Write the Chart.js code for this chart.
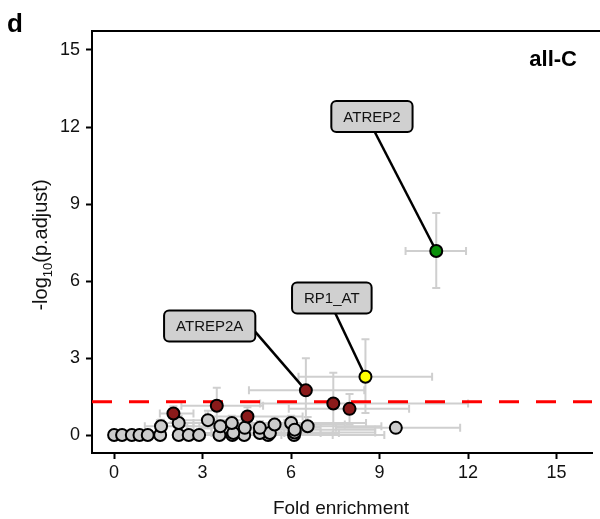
<!DOCTYPE html>
<html>
<head>
<meta charset="utf-8">
<script src="https://cdn.jsdelivr.net/npm/chart.js@4.4.1/dist/chart.umd.min.js"></script>
<style>
  html, body { margin: 0; padding: 0; background: #fff; }
  #wrap { position: relative; width: 600px; height: 519px; }
</style>
</head>
<body>
<div id="wrap"><canvas id="chart"></canvas></div>
<script>
'use strict';

/* ── Data ──────────────────────────────────────────────────────────────── */
// one entry per enriched term
const foldEnrichment = [
  0.00, 0.27, 0.60, 0.86, 1.14, 1.56, 2.19, 2.53, 2.88, 3.57, 4.01, 4.41, 5.22, 6.10,
  4.04, 4.94, 5.28, 6.12,
  1.59, 2.19, 3.18, 3.60, 3.99, 4.43, 4.94, 5.44, 6.00, 6.12, 6.56, 9.55,
  2.01, 3.48, 4.52, 6.50, 7.43, 7.98,
  8.52, 10.92
];
const negLog10Padj = [
  0.00, 0.00, 0.00, 0.00, 0.00, 0.00, 0.00, 0.00, 0.00, 0.00, 0.00, 0.00, 0.00, 0.00,
  0.08, 0.08, 0.08, 0.10,
  0.34, 0.47, 0.58, 0.34, 0.47, 0.28, 0.28, 0.41, 0.47, 0.21, 0.34, 0.28,
  0.84, 1.14, 0.72, 1.74, 1.23, 1.02,
  2.27, 7.17
];
const foldLow = [
  0.00, 0.27, 0.60, 0.86, 1.14, 1.56, 2.19, 2.53, 2.88, 2.38, 2.69, 3.00, 3.51, 4.13,
  2.79, 3.30, 3.51, 4.13,
  1.04, 1.45, 2.07, 2.48, 2.69, 2.89, 3.30, 3.61, 4.02, 4.13, 4.43, 7.52,
  1.55, 2.28, 3.10, 4.57, 4.95, 5.92,
  6.25, 9.88
];
const foldHigh = [
  0.00, 0.27, 0.60, 0.86, 1.14, 1.56, 2.19, 2.53, 2.88, 5.15, 5.67, 6.18, 7.41, 9.16,
  5.77, 7.00, 7.62, 8.85,
  2.69, 3.30, 4.64, 5.36, 5.77, 6.39, 7.00, 7.82, 8.54, 8.85, 9.06, 11.73,
  2.69, 5.05, 6.39, 8.48, 12.00, 10.00,
  10.78, 11.93
];
const padjLow = [
  0, 0, 0, 0, 0, 0, 0, 0, 0, 0, 0, 0, 0, 0,
  0.00, 0.00, 0.00, 0.00,
  0.10, 0.15, 0.25, 0.10, 0.15, 0.05, 0.05, 0.10, 0.15, 0.00, 0.05, 0.28,
  0.50, 0.50, 0.30, 0.45, 0.00, 0.40,
  0.86, 5.73
];
const padjHigh = [
  0, 0, 0, 0, 0, 0, 0, 0, 0, 0, 0, 0, 0, 0,
  0.00, 0.00, 0.00, 0.00,
  0.60, 0.75, 0.95, 0.60, 0.75, 0.55, 0.55, 0.70, 0.75, 0.45, 0.70, 0.28,
  1.12, 1.84, 1.08, 2.99, 2.43, 1.60,
  3.73, 8.65
];
// ns = not significant, sig = significant, yellow / green = highlighted
const termClass = [
  'ns','ns','ns','ns','ns','ns','ns','ns','ns','ns','ns','ns','ns','ns',
  'ns','ns','ns','ns',
  'ns','ns','ns','ns','ns','ns','ns','ns','ns','ns','ns','ns',
  'sig','sig','sig','sig','sig','sig',
  'yellow','green'
];
const labelIndex = [37, 36, 33];
const labelText  = ['ATREP2', 'RP1_AT', 'ATREP2A'];
const xTicks = [0, 3, 6, 9, 12, 15];
const yTicks = [0, 3, 6, 9, 12, 15];
const padjCutoff = 1.30; // -log10(0.05)

/* ── Style ─────────────────────────────────────────────────────────────── */
const FONT = '"Liberation Sans", Arial, Helvetica, sans-serif';
const classColour = { ns: '#cccccc', sig: '#8b1a1a', yellow: '#ffff00', green: '#0a8f0a' };
// label box centres (data units) and where the leader leaves the box (-1..1 of half size)
const labelBoxAt  = [[8.74, 12.41], [7.38, 5.34], [3.24, 4.25]];
const labelAnchor = [[0.07, 1], [0.09, 1], [1, 0.38]];

function pointsOf(cls) {
  return foldEnrichment
    .map((f, i) => ({ x: f, y: negLog10Padj[i], c: termClass[i] }))
    .filter(p => p.c === cls);
}

/* ── Plugin: error bars, cut-off, labels, frame, titles ────────────────── */
const decor = {
  id: 'decor',
  beforeDatasetsDraw(chart) {
    const { ctx, chartArea: a, scales: { x, y } } = chart;
    ctx.save();
    ctx.beginPath();
    ctx.rect(a.left, a.top, a.right - a.left, a.bottom - a.top);
    ctx.clip();

    // error bars
    ctx.strokeStyle = '#cfcfcf';
    ctx.lineWidth = 2;
    const cap = 4;
    foldEnrichment.forEach((f, i) => {
      const px = x.getPixelForValue(f), py = y.getPixelForValue(negLog10Padj[i]);
      if (foldHigh[i] > foldLow[i]) {
        const x0 = x.getPixelForValue(foldLow[i]), x1 = x.getPixelForValue(foldHigh[i]);
        ctx.beginPath();
        ctx.moveTo(x0, py); ctx.lineTo(x1, py);
        ctx.moveTo(x0, py - cap); ctx.lineTo(x0, py + cap);
        ctx.moveTo(x1, py - cap); ctx.lineTo(x1, py + cap);
        ctx.stroke();
      }
      if (padjHigh[i] > padjLow[i]) {
        const y0 = y.getPixelForValue(padjLow[i]), y1 = y.getPixelForValue(padjHigh[i]);
        ctx.beginPath();
        ctx.moveTo(px, y0); ctx.lineTo(px, y1);
        ctx.moveTo(px - cap, y0); ctx.lineTo(px + cap, y0);
        ctx.moveTo(px - cap, y1); ctx.lineTo(px + cap, y1);
        ctx.stroke();
      }
    });

    // significance cut-off
    const yc = y.getPixelForValue(padjCutoff);
    ctx.strokeStyle = '#ff0000';
    ctx.lineWidth = 3;
    ctx.setLineDash([20, 17]);
    ctx.beginPath();
    ctx.moveTo(a.left, yc); ctx.lineTo(a.right, yc);
    ctx.stroke();
    ctx.setLineDash([]);

    // label connectors
    ctx.font = '15px ' + FONT;
    ctx.strokeStyle = '#000';
    ctx.lineWidth = 2.5;
    labelIndex.forEach((idx, k) => {
      const b = labelBox(ctx, x, y, k);
      const px = x.getPixelForValue(foldEnrichment[idx]);
      const py = y.getPixelForValue(negLog10Padj[idx]);
      ctx.beginPath();
      ctx.moveTo(b.cx + labelAnchor[k][0] * b.w / 2, b.cy + labelAnchor[k][1] * b.h / 2);
      ctx.lineTo(px, py);
      ctx.stroke();
    });
    ctx.restore();
  },
  afterDatasetsDraw(chart) {
    const { ctx, chartArea: a, scales: { x, y } } = chart;
    ctx.save();

    // label boxes
    ctx.font = '15px ' + FONT;
    labelIndex.forEach((idx, k) => {
      const b = labelBox(ctx, x, y, k);
      ctx.beginPath();
      ctx.roundRect(b.cx - b.w / 2, b.cy - b.h / 2, b.w, b.h, 5);
      ctx.fillStyle = '#d0d0d0';
      ctx.fill();
      ctx.strokeStyle = '#000';
      ctx.lineWidth = 2;
      ctx.stroke();
      ctx.fillStyle = '#111';
      ctx.textAlign = 'center';
      ctx.textBaseline = 'middle';
      ctx.fillText(labelText[k], b.cx, b.cy + 1);
    });

    // top frame line
    ctx.strokeStyle = '#000';
    ctx.lineWidth = 2;
    ctx.beginPath();
    ctx.moveTo(a.left, a.top); ctx.lineTo(chart.width, a.top);
    ctx.stroke();

    // panel tag and subset name
    ctx.fillStyle = '#000';
    ctx.textBaseline = 'alphabetic';
    ctx.textAlign = 'left';
    ctx.font = 'bold 26px ' + FONT;
    ctx.fillText('d', 7, 32);
    ctx.textAlign = 'right';
    ctx.font = 'bold 22px ' + FONT;
    ctx.fillText('all-C', 577, 66);

    // x title
    ctx.font = '19px ' + FONT;
    ctx.textAlign = 'center';
    ctx.fillStyle = '#111';
    ctx.fillText('Fold enrichment', (a.left + a.right) / 2 - 1, 514);

    // y title with subscript
    ctx.translate(40, (a.top + a.bottom) / 2 + 3);
    ctx.rotate(-Math.PI / 2);
    ctx.textAlign = 'left';
    const big = '20px ' + FONT, small = '13px ' + FONT;
    ctx.font = big;   const w1 = ctx.measureText('-log').width;
    ctx.font = small; const w2 = ctx.measureText('10').width;
    ctx.font = big;   const w3 = ctx.measureText('(p.adjust)').width;
    let sx = -(w1 + w2 + w3) / 2;
    ctx.font = big;   ctx.fillText('-log', sx, 7); sx += w1;
    ctx.font = small; ctx.fillText('10', sx, 12); sx += w2;
    ctx.font = big;   ctx.fillText('(p.adjust)', sx, 7);
    ctx.restore();
  }
};

function labelBox(ctx, x, y, k) {
  const w = ctx.measureText(labelText[k]).width + 24;
  return {
    cx: x.getPixelForValue(labelBoxAt[k][0]),
    cy: y.getPixelForValue(labelBoxAt[k][1]),
    w, h: 31
  };
}

/* ── Chart ─────────────────────────────────────────────────────────────── */
function ds(cls, order) {
  return {
    data: pointsOf(cls),
    backgroundColor: classColour[cls],
    borderColor: '#000',
    borderWidth: 2,
    pointRadius: 6,
    pointHoverRadius: 6,
    order
  };
}

const axisCommon = {
  type: 'linear',
  border: { display: true, color: '#000', width: 2 },
  grid: { display: true, drawOnChartArea: false, drawTicks: true, tickLength: 6, tickWidth: 2, tickColor: '#000' },
  ticks: { color: '#111', font: { family: FONT, size: 18 } }
};

new Chart(document.getElementById('chart'), {
  type: 'scatter',
  data: {
    datasets: [ds('green', 1), ds('yellow', 2), ds('sig', 3), ds('ns', 4)]
  },
  options: {
    responsive: true,
    maintainAspectRatio: false,
    animation: false,
    layout: { padding: { top: 31, right: 3, left: 0, bottom: 0 } },
    plugins: { legend: { display: false }, tooltip: { enabled: false } },
    scales: {
      x: {
        ...axisCommon,
        min: -0.75,
        max: 16.2,
        ticks: { ...axisCommon.ticks, padding: 3 },
        afterBuildTicks: s => { s.ticks = xTicks.map(v => ({ value: v })); },
        afterFit: s => { s.height = 66; }
      },
      y: {
        ...axisCommon,
        min: -0.70,
        max: 15.74,
        ticks: { ...axisCommon.ticks, padding: 6 },
        afterBuildTicks: s => { s.ticks = yTicks.map(v => ({ value: v })); },
        afterFit: s => { s.width = 92; }
      }
    }
  },
  plugins: [decor]
});
</script>
</body>
</html>
